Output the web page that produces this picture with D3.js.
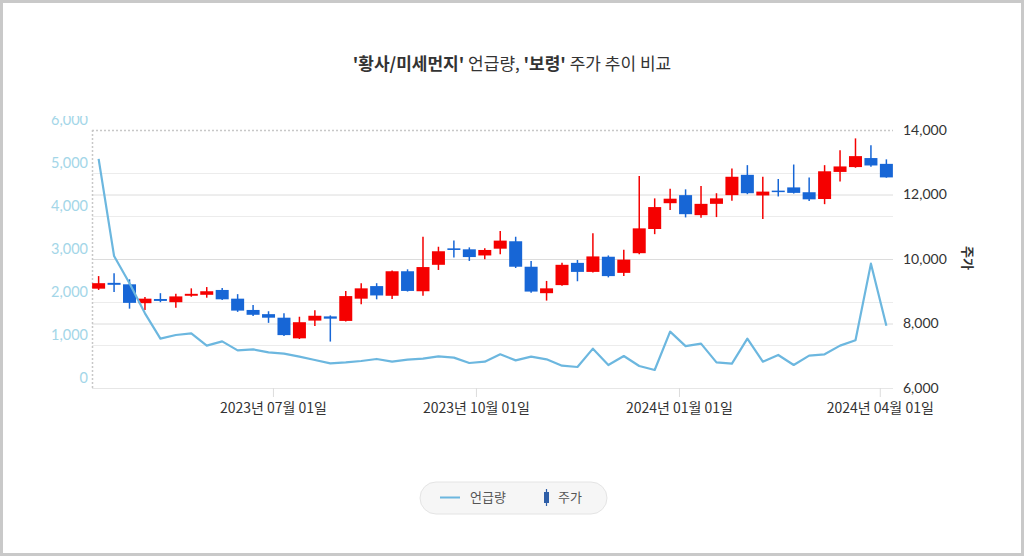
<!DOCTYPE html>
<html>
<head>
<meta charset="utf-8">
<script src="https://cdn.jsdelivr.net/npm/d3@7"></script>
<style>
  html, body { margin: 0; padding: 0; background: #fff; }
  svg { display: block; font-family: "Noto Sans CJK KR", "Noto Sans", sans-serif; }
</style>
</head>
<body>
<svg id="chart" width="1024" height="556"></svg>
<script>
// ---- data ----
const dates = ["2023-04-13","2023-04-20","2023-04-27","2023-05-04","2023-05-11","2023-05-18","2023-05-25",
  "2023-06-01","2023-06-08","2023-06-15","2023-06-22","2023-06-29","2023-07-06","2023-07-13","2023-07-20",
  "2023-07-27","2023-08-03","2023-08-10","2023-08-17","2023-08-24","2023-08-31","2023-09-07","2023-09-14",
  "2023-09-21","2023-09-28","2023-10-05","2023-10-12","2023-10-19","2023-10-26","2023-11-02","2023-11-09",
  "2023-11-16","2023-11-23","2023-11-30","2023-12-07","2023-12-14","2023-12-21","2023-12-28","2024-01-04",
  "2024-01-11","2024-01-18","2024-01-25","2024-02-01","2024-02-08","2024-02-15","2024-02-22","2024-02-29",
  "2024-03-07","2024-03-14","2024-03-21","2024-03-28","2024-04-04"];
const openP  = [9080,9260,9215,8630,8760,8660,8860,8890,9040,8770,8420,8290,8180,7540,8090,8220,8080,8770,9160,8860,9620,9000,9820,10330,10300,10110,10320,10550,9760,8940,9190,9880,9600,10070,9570,10180,10930,11730,11980,11360,11710,11980,12610,11970,12120,12220,12070,11860,12700,12850,13130,12950];
const highP  = [9470,9560,9370,8820,8940,8920,9090,9130,9100,8910,8570,8380,8320,8210,8410,8250,9010,9250,9250,9640,9680,10690,10380,10570,10360,10330,10870,10690,9940,9320,9880,9970,10800,10110,10290,12570,11880,12180,12160,12260,12040,12810,12910,12550,12480,12930,12530,12910,13370,13740,13530,13090];
const lowP   = [9040,8980,8460,8420,8660,8490,8830,8800,8730,8360,8230,8020,7610,7520,7920,7440,8060,8600,8750,8760,8990,8860,9660,10050,9940,9990,10150,9720,8950,8710,9170,9310,9580,9430,9470,10150,10770,11520,11290,11280,11300,11810,12010,11240,11940,12030,11800,11700,12400,12830,12860,12520];
const closeP = [9250,9200,8640,8770,8700,8840,8920,9000,8750,8400,8270,8180,7640,8040,8240,8150,8850,9090,8870,9620,9010,9750,10240,10280,10060,10280,10570,9760,8990,9090,9820,9600,10080,9470,9980,10950,11610,11870,11390,11710,11880,12550,12040,12090,12080,12050,11850,12720,12870,13190,12900,12530];
const mentions = [5330,3070,2435,1737,1147,1233,1271,985,1085,876,899,830,799,729,651,574,597,628,675,612,659,682,737,706,581,612,783,643,729,667,519,488,915,535,744,512,419,1310,973,1031,597,566,1147,612,768,535,752,783,985,1109,2892,1450];
const leftTicks  = [0,1000,2000,3000,4000,5000,6000];
const rightTicks = [6000,8000,10000,12000,14000];
const xTickDates = ["2023-07-01","2023-10-01","2024-01-01","2024-04-01"];
const titleParts = [["'황사/미세먼지'", true], [" 언급량, ", false], ["'보령'", true], [" 주가 추이 비교", false]];
const legendItems = ["언급량", "주가"];
const rightTitle = "주가";

// ---- setup ----
const parse = d3.timeParse("%Y-%m-%d");
const dd = dates.map(parse);
const svg = d3.select("#chart");
const W = 1024, H = 556;
const plot = {left: 92, right: 893, top: 130, bottom: 388};
const RED = "#f50000", BLUE = "#1766d6", LINE = "#6cb7df";

svg.append("rect").attr("x", 1.5).attr("y", 1.5).attr("width", W - 3).attr("height", H - 3)
  .attr("fill", "#fff").attr("stroke", "#c9c9c9").attr("stroke-width", 3);

const x = d3.scaleTime()
  .domain([d3.timeDay.offset(dd[0], -3), d3.timeDay.offset(dd[dd.length - 1], 3)])
  .range([plot.left, plot.right]);
const yL = d3.scaleLinear().domain([0, 6000]).range([plot.bottom, plot.top]);
const yR = d3.scaleLinear().domain([6000, 14000]).range([plot.bottom, plot.top]);

// title
const title = svg.append("text").attr("x", W / 2).attr("y", 70).attr("text-anchor", "middle")
  .attr("font-size", 17).attr("fill", "#333");
titleParts.forEach(([t, b]) => title.append("tspan").text(t).attr("font-weight", b ? 700 : 400));

// gridlines (left scale, light)
svg.append("g").selectAll("line").data(leftTicks.filter(v => v > 0 && v < 6000)).join("line")
  .attr("x1", plot.left).attr("x2", plot.right)
  .attr("y1", d => yL(d) + 0.5).attr("y2", d => yL(d) + 0.5)
  .attr("stroke", "#ececec").attr("stroke-width", 1);
// gridlines (right scale)
svg.append("g").selectAll("line").data(rightTicks.filter(v => v > 6000 && v < 14000)).join("line")
  .attr("x1", plot.left).attr("x2", plot.right)
  .attr("y1", d => yR(d) + 0.5).attr("y2", d => yR(d) + 0.5)
  .attr("stroke", "#dcdcdc").attr("stroke-width", 1);
// bottom line
svg.append("line").attr("x1", plot.left).attr("x2", plot.right)
  .attr("y1", plot.bottom + 0.5).attr("y2", plot.bottom + 0.5).attr("stroke", "#e6e6e6");
// top dotted & left dotted
svg.append("line").attr("x1", plot.left).attr("x2", plot.right)
  .attr("y1", plot.top + 0.5).attr("y2", plot.top + 0.5)
  .attr("stroke", "#c8c8c8").attr("stroke-dasharray", "2,2").attr("stroke-width", 1.5);
svg.append("line").attr("x1", plot.left + 0.5).attr("x2", plot.left + 0.5)
  .attr("y1", plot.top).attr("y2", plot.bottom)
  .attr("stroke", "#c8c8c8").attr("stroke-dasharray", "2,2").attr("stroke-width", 1.5);

// x axis
const xAxis = d3.axisBottom(x).tickValues(xTickDates.map(parse))
  .tickFormat(d3.timeFormat("%Y년 %m월 %d일")).tickSize(9).tickPadding(6);
const gx = svg.append("g").attr("transform", `translate(0,${plot.bottom})`).call(xAxis);
gx.select(".domain").remove();
gx.selectAll(".tick line").attr("stroke", "#dcdcdc");
gx.selectAll(".tick text").attr("font-size", 14).attr("fill", "#333")
  .attr("font-family", "'Noto Sans CJK KR', sans-serif");

// left axis (labels only, offset upwards)
svg.append("defs").append("clipPath").attr("id", "lclip").append("rect")
  .attr("x", 0).attr("y", 116).attr("width", 95).attr("height", 300);
const yAxisL = d3.axisLeft(yL).tickValues(leftTicks).tickFormat(d3.format(",")).tickSize(0).tickPadding(4);
const gl = svg.append("g").attr("clip-path", "url(#lclip)")
  .append("g").attr("transform", `translate(${plot.left},-10)`).call(yAxisL);
gl.select(".domain").remove();
gl.selectAll(".tick text").attr("font-size", 14.5).attr("fill", "#a3d6e8")
  .attr("font-family", "Lato, 'Noto Sans', sans-serif");

// right axis
const yAxisR = d3.axisRight(yR).tickValues(rightTicks).tickFormat(d3.format(",")).tickSize(0).tickPadding(10);
const gr = svg.append("g").attr("transform", `translate(${plot.right},0)`).call(yAxisR);
gr.select(".domain").remove();
gr.selectAll(".tick text").attr("font-size", 14).attr("fill", "#333")
  .attr("font-family", "Lato, 'Noto Sans', sans-serif");
svg.append("text").attr("transform", "translate(963,258) rotate(90)").attr("text-anchor", "middle")
  .attr("font-size", 13).attr("font-weight", 700).attr("fill", "#333").text(rightTitle);

// candles
const bw = 13;
const cg = svg.append("g");
const idx = d3.range(dd.length);
cg.selectAll("line.wick").data(idx).join("line").attr("class", "wick")
  .attr("x1", i => x(dd[i])).attr("x2", i => x(dd[i]))
  .attr("y1", i => yR(highP[i])).attr("y2", i => yR(lowP[i]))
  .attr("stroke", i => closeP[i] >= openP[i] ? RED : BLUE).attr("stroke-width", 1.5);
cg.selectAll("rect.body").data(idx).join("rect").attr("class", "body")
  .attr("x", i => x(dd[i]) - bw / 2).attr("width", bw)
  .attr("y", i => yR(Math.max(openP[i], closeP[i])))
  .attr("height", i => Math.max(1.5, Math.abs(yR(openP[i]) - yR(closeP[i]))))
  .attr("fill", i => closeP[i] >= openP[i] ? RED : BLUE);

// mentions line
svg.append("path").datum(idx).attr("fill", "none").attr("stroke", LINE).attr("stroke-width", 2.2)
  .attr("stroke-linejoin", "round")
  .attr("d", d3.line().x(i => x(dd[i])).y(i => yL(mentions[i])));

// legend
const lg = svg.append("g");
lg.append("rect").attr("x", 420).attr("y", 482).attr("width", 187).attr("height", 32).attr("rx", 16)
  .attr("fill", "#f6f6f6").attr("stroke", "#e4e4e4");
lg.append("line").attr("x1", 440).attr("x2", 460).attr("y1", 497.5).attr("y2", 497.5)
  .attr("stroke", LINE).attr("stroke-width", 2);
lg.append("text").attr("x", 470).attr("y", 502).attr("font-size", 13).attr("fill", "#555").text(legendItems[0]);
lg.append("line").attr("x1", 546.5).attr("x2", 546.5).attr("y1", 489).attr("y2", 506)
  .attr("stroke", "#2f5fa8").attr("stroke-width", 1.2);
lg.append("rect").attr("x", 544).attr("y", 492).attr("width", 5).attr("height", 11).attr("fill", "#2f5fa8");
lg.append("text").attr("x", 558).attr("y", 502).attr("font-size", 13).attr("fill", "#555").text(legendItems[1]);
</script>
</body>
</html>
